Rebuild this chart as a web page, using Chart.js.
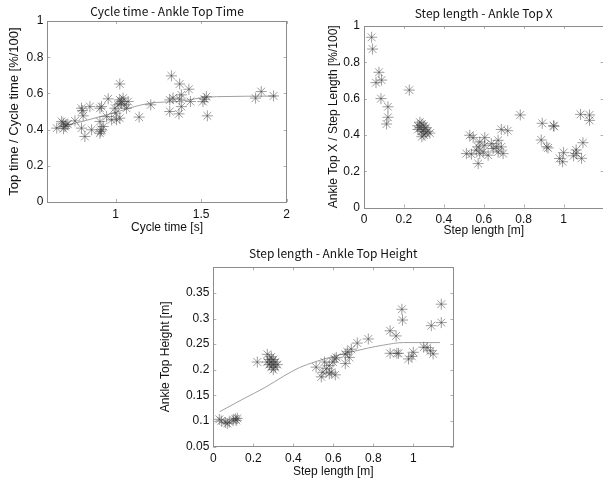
<!DOCTYPE html>
<html>
<head>
<meta charset="utf-8">
<script src="https://cdn.jsdelivr.net/npm/chart.js@4.4.1/dist/chart.umd.min.js"></script>
<style>
  html, body { margin: 0; padding: 0; background: #fff; overflow: hidden; }
  body { width: 603px; height: 487px; position: relative; }
  canvas { position: absolute; }
</style>
</head>
<body>
<canvas id="c1" width="300" height="235" style="left:0;top:0"></canvas>
<canvas id="c2" width="310" height="240" style="left:300px;top:0"></canvas>
<canvas id="c3" width="310" height="252" style="left:150px;top:235px"></canvas>
<script>
// cycle time vs. ankle top time ratio
const cycleTime = [0.655,0.684,0.693,0.703,0.709,0.695,0.72,0.762,0.80,0.805,0.81,0.849,0.80,0.82,0.859,
  0.908,0.917,0.908,0.917,0.908,0.927,0.912,0.956,0.947,0.976,1.005,1.024,0.995,1.014,1.024,1.034,
  1.043,1.053,1.063,1.024,1.001,1.073,1.03,1.137,1.205,1.326,1.316,1.316,1.335,1.374,1.374,1.384,
  1.37,1.384,1.428,1.437,1.51,1.52,1.53,1.536,1.818,1.851,1.923];
const topTimeRatio = [0.408,0.445,0.436,0.417,0.426,0.405,0.43,0.448,0.518,0.505,0.476,0.527,0.408,0.362,0.399,
  0.518,0.527,0.445,0.399,0.38,0.417,0.39,0.57,0.472,0.454,0.454,0.652,0.518,0.537,0.564,0.555,
  0.574,0.537,0.518,0.463,0.491,0.555,0.545,0.469,0.537,0.697,0.564,0.5,0.574,0.652,0.568,0.527,
  0.487,0.592,0.623,0.555,0.555,0.568,0.582,0.476,0.574,0.61,0.586];
const fitCycleX = [0.645,0.75,0.95,1.2,1.37,1.49,1.59,1.94];
const fitCycleY = [0.408,0.432,0.482,0.546,0.556,0.574,0.582,0.585];

// step length vs. ankle top X ratio
const stepLenX = [0.038,0.043,0.075,0.06,0.088,0.085,0.12,0.12,0.113,0.227,
  0.27,0.28,0.28,0.29,0.29,0.30,0.30,0.31,0.31,0.32,0.29,0.30,0.27,0.33,
  0.513,0.538,0.53,0.547,0.572,0.563,0.58,0.58,0.572,0.605,0.605,0.597,0.622,0.638,0.663,0.672,
  0.672,0.688,0.697,0.647,0.688,0.72,0.783,
  0.893,0.95,0.952,0.888,0.915,0.922,0.98,0.995,1.0,1.085,1.13,1.13,1.097,1.063,1.05,1.063,1.09];
const topXRatio = [0.938,0.873,0.745,0.688,0.702,0.60,0.555,0.497,0.46,0.647,
  0.45,0.47,0.44,0.42,0.46,0.43,0.40,0.44,0.41,0.42,0.39,0.45,0.43,0.41,
  0.297,0.294,0.398,0.385,0.334,0.316,0.297,0.361,0.242,0.385,0.343,0.306,0.288,0.352,0.334,0.37,
  0.306,0.334,0.297,0.325,0.43,0.423,0.51,
  0.464,0.451,0.447,0.372,0.335,0.328,0.27,0.252,0.302,0.513,0.51,0.48,0.357,0.317,0.285,0.298,0.271];

// step length vs. ankle top height
const stepLenH = [0.03,0.04,0.06,0.07,0.08,0.10,0.11,0.115,0.12,0.22,
  0.27,0.28,0.28,0.29,0.29,0.30,0.30,0.31,0.31,0.32,0.29,0.30,0.27,
  0.514,0.54,0.548,0.556,0.565,0.58,0.59,0.598,0.607,0.615,0.58,0.61,0.66,0.67,0.69,0.72,0.66,0.68,0.775,
  0.884,0.914,0.943,0.946,0.884,0.918,0.926,0.976,0.993,1.0,1.052,1.069,1.086,1.099,1.09,1.14,1.14];
const topHeight = [0.103,0.100,0.097,0.095,0.098,0.102,0.104,0.101,0.105,0.215,
  0.23,0.22,0.21,0.205,0.225,0.21,0.20,0.215,0.205,0.21,0.215,0.22,0.215,
  0.205,0.186,0.195,0.215,0.202,0.208,0.195,0.215,0.221,0.224,0.192,0.19,0.23,0.235,0.24,0.252,0.212,0.224,0.26,
  0.276,0.266,0.318,0.297,0.232,0.232,0.232,0.221,0.226,0.234,0.244,0.243,0.237,0.231,0.286,0.328,0.292];
const fitHeightX = [0.032,0.15,0.262,0.35,0.43,0.514,0.6,0.682,0.77,0.85,0.951,1.133];
const fitHeightY = [0.118,0.143,0.166,0.187,0.204,0.216,0.226,0.234,0.242,0.248,0.253,0.253];

// tick labels
const cycleTicks = [1, 1.5, 2];
const ratioTicks = [0, 0.2, 0.4, 0.6, 0.8, 1];
const stepTicks = [0, 0.2, 0.4, 0.6, 0.8, 1];
const heightTicks = [0.05, 0.1, 0.15, 0.2, 0.25, 0.3, 0.35];

const sans = "'Liberation Sans', Arial, sans-serif";
Chart.defaults.font.family = sans;
Chart.defaults.font.size = 12;
const labelFont = { family: sans, size: 12 };
const titleFont = { family: "'Noto Sans CJK JP', sans-serif", size: 12 };

// box around the plot with short inward ticks on all four sides
const frame = {
  id: 'frame',
  afterDatasetsDraw(chart) {
    const { ctx, chartArea: a, scales } = chart;
    ctx.save();
    ctx.strokeStyle = '#b0b0b0';
    ctx.lineWidth = 1;
    ctx.beginPath();
    scales.x.ticks.forEach(t => {
      const px = Math.round(scales.x.getPixelForValue(t.value)) + 0.5;
      ctx.moveTo(px, a.bottom); ctx.lineTo(px, a.bottom - 3);
      ctx.moveTo(px, a.top); ctx.lineTo(px, a.top + 3);
    });
    scales.y.ticks.forEach(t => {
      const py = Math.round(scales.y.getPixelForValue(t.value)) + 0.5;
      ctx.moveTo(a.left, py); ctx.lineTo(a.left + 3, py);
      ctx.moveTo(a.right, py); ctx.lineTo(a.right - 3, py);
    });
    ctx.stroke();
    ctx.strokeStyle = '#8c8c8c';
    ctx.strokeRect(Math.round(a.left) + 0.5, Math.round(a.top) + 0.5,
      Math.round(a.right - a.left), Math.round(a.bottom - a.top));
    ctx.restore();
  }
};

function pts(xs, ys) {
  return xs.map((x, i) => ({ x: x, y: ys[i] }));
}

function makeChart(id, o) {
  const datasets = [{
    data: pts(o.xs, o.ys),
    pointStyle: 'star',
    pointRadius: 5.5,
    pointBorderColor: 'rgba(60,60,60,0.5)',
    pointBackgroundColor: 'rgba(0,0,0,0)',
    pointBorderWidth: 1
  }];
  if (o.fitX) {
    datasets.push({
      data: pts(o.fitX, o.fitY),
      showLine: true,
      borderColor: '#a0a0a0',
      borderWidth: 1,
      pointRadius: 0,
      cubicInterpolationMode: 'monotone'
    });
  }
  return new Chart(document.getElementById(id), {
    type: 'scatter',
    data: { datasets: datasets },
    options: {
      responsive: false,
      animation: false,
      layout: { padding: { left: 0, right: o.padRight, top: 0, bottom: 0 } },
      plugins: {
        legend: { display: false },
        tooltip: { enabled: false },
        title: { display: false }
      },
      scales: {
        x: {
          type: 'linear', min: o.xMin, max: o.xMax,
          afterBuildTicks: s => { s.ticks = o.xTicks.map(v => ({ value: v })); },
          afterFit: s => { s.height = o.xAxisH; },
          grid: { display: false, drawTicks: false },
          border: { display: false },
          ticks: { font: labelFont, color: '#111', padding: 5, maxRotation: 0,
            callback: v => String(v) },
          title: { display: true, text: o.xLabel, font: labelFont, color: '#111',
            padding: { top: 0, bottom: o.xTitleBottom } }
        },
        // top axis only carries the plot title, centred over the plot box
        top: {
          type: 'linear', position: 'top', min: o.xMin, max: o.xMax,
          afterFit: s => { s.height = o.plotTop; },
          grid: { display: false, drawTicks: false },
          border: { display: false },
          ticks: { display: false },
          title: { display: true, text: o.title, font: titleFont, color: '#111',
            padding: { top: o.titleTop, bottom: 0 } }
        },
        y: {
          type: 'linear', min: o.yMin, max: o.yMax,
          afterBuildTicks: s => { s.ticks = o.yTicks.map(v => ({ value: v })); },
          afterFit: s => { s.width = o.yAxisW; },
          grid: { display: false, drawTicks: false },
          border: { display: false },
          ticks: { font: labelFont, color: '#111', padding: 4,
            callback: v => String(v) },
          title: { display: true, text: o.yLabel, font: { family: sans, size: o.yLabelSize },
            color: '#111', padding: { top: o.yTitleLeft, bottom: 0 } }
        }
      }
    },
    plugins: [frame]
  });
}

makeChart('c1', {
  xs: cycleTime, ys: topTimeRatio, fitX: fitCycleX, fitY: fitCycleY,
  title: 'Cycle time - Ankle Top Time', plotTop: 21, titleTop: 4.5,
  xLabel: 'Cycle time [s]', yLabel: 'Top time / Cycle time [%/100]', yLabelSize: 13,
  xMin: 0.6, xMax: 2, xTicks: cycleTicks, yMin: 0, yMax: 1, yTicks: ratioTicks,
  xAxisH: 33, yAxisW: 47.3, padRight: 13.3, xTitleBottom: 0, yTitleLeft: 7
});

makeChart('c2', {
  xs: stepLenX, ys: topXRatio,
  title: 'Step length - Ankle Top X', plotTop: 26, titleTop: 6,
  xLabel: 'Step length [m]', yLabel: 'Ankle Top X / Step Length [%/100]', yLabelSize: 12,
  xMin: 0, xMax: 1.2, xTicks: stepTicks, yMin: 0, yMax: 1, yTicks: ratioTicks,
  xAxisH: 32.5, yAxisW: 64, padRight: 6, xTitleBottom: 2, yTitleLeft: 26
});

makeChart('c3', {
  xs: stepLenH, ys: topHeight, fitX: fitHeightX, fitY: fitHeightY,
  title: 'Step length - Ankle Top Height', plotTop: 32.3, titleTop: 10.8,
  xLabel: 'Step length [m]', yLabel: 'Ankle Top Height [m]', yLabelSize: 12,
  xMin: 0, xMax: 1.2, xTicks: stepTicks, yMin: 0.05, yMax: 0.4, yTicks: heightTicks,
  xAxisH: 40.5, yAxisW: 63.3, padRight: 6.7, xTitleBottom: 8, yTitleLeft: 8
});
</script>
</body>
</html>
